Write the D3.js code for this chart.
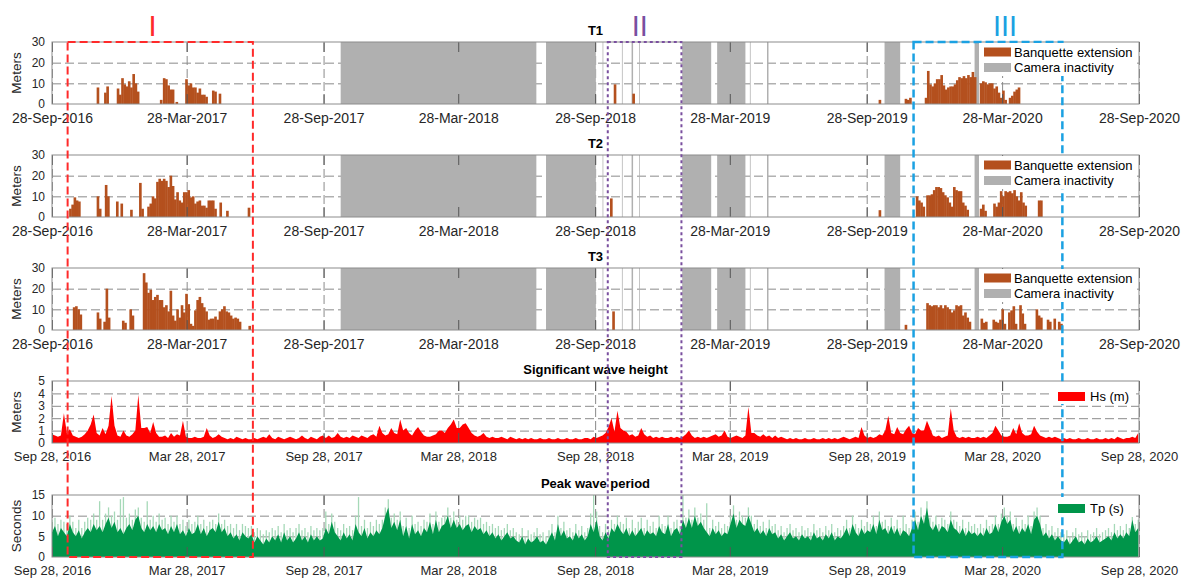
<!DOCTYPE html>
<html>
<head>
<meta charset="utf-8">
<script src="https://cdn.jsdelivr.net/npm/d3@7"></script>
<style>
body { margin: 0; background: #fff; }
svg { font-family: Arial, "Liberation Sans", sans-serif; }
</style>
</head>
<body>
<svg id="chart" width="1185" height="578"></svg>
<script>
// ---- data ----
let xStart = "2016-09-28", xEnd = "2020-09-28";
let tickDates = ["2016-09-28", "2017-03-28", "2017-09-28", "2018-03-28", "2018-09-28",
                 "2019-03-28", "2019-09-28", "2020-03-28", "2020-09-28"];

// camera inactivity periods (same for T1, T2, T3)
let inactivity = [
  ["2017-10-21", "2018-07-11"], ["2018-07-24", "2018-09-29"],
  ["2018-10-08", "2018-10-09"], ["2018-11-03", "2018-11-04"],
  ["2018-11-16", "2018-11-18"], ["2018-11-26", "2018-11-27"],
  ["2019-01-23", "2019-03-03"], ["2019-03-11", "2019-04-18"],
  ["2019-04-24", "2019-04-25"], ["2019-05-17", "2019-05-19"],
  ["2019-10-22", "2019-11-12"], ["2020-02-20", "2020-02-26"]
];

// banquette extension (m): runs of values, one value every 3 days from the start date
let barStepDays = 3;
let t1Runs = [
  ["2016-11-27", [8]], ["2016-12-07", [5.5]], ["2016-12-10", [8.5]],
  ["2016-12-24", [7.5, 4.5, 12.5, 9.5, 8.5, 11, 8, 14.5, 10, 6]],
  ["2017-02-20", [2]],
  ["2017-02-24", [12.5, 12, 9, 7, 7]],
  ["2017-03-13", [1]],
  ["2017-03-26", [12, 9, 10, 8, 8, 5.5, 7.5, 4.5, 4.5, 3.5, 0, 0, 6.5, 6, 0, 5]],
  ["2018-10-23", [9.5]], ["2018-11-17", [5]],
  ["2019-10-14", [2]], ["2019-11-18", [2.5, 2, 3]],
  ["2019-12-15", [3, 16, 9.5, 8.5, 10, 12, 12, 14, 9, 7, 8, 8.5, 8.5, 9.5, 11.5, 13, 12.5, 13.5, 12.5, 14, 13, 15.5, 13]],
  ["2020-02-27", [10, 11, 10.5, 9.5, 10, 10, 7.5, 8.5, 5.5, 3, 6.5, 2, 0, 3, 4, 6, 7, 8]]
];
let t2Runs = [
  ["2016-10-21", [4, 6, 9.5, 8, 7.5]],
  ["2016-11-27", [10]], ["2016-11-30", [4]],
  ["2016-12-08", [15.5, 10]], ["2016-12-23", [7.5]], ["2016-12-29", [6.5]],
  ["2017-01-11", [3.5]], ["2017-01-23", [16.5, 4]],
  ["2017-02-03", [5, 6.5, 10, 9]],
  ["2017-02-15", [17, 18.5, 17.5, 18.5, 17.5, 14.5, 20, 15, 8.5, 12, 8, 7, 12, 12, 13, 9.5, 10, 6.5, 7.5, 8, 5.5, 5.5, 4.5, 8, 8, 8, 4]],
  ["2017-05-11", [7]], ["2017-05-20", [3]], ["2017-06-18", [4.5]],
  ["2018-10-18", [9]],
  ["2019-10-14", [3.3]],
  ["2019-12-03", [10, 8, 7, 5]],
  ["2019-12-17", [10.5, 10.5, 11, 13, 14.5, 14.5, 14, 12, 10.5, 9.5, 7, 5, 14.5, 13, 12.5, 12.5, 7, 5.5, 3.5]],
  ["2020-02-27", [4, 6, 3]],
  ["2020-03-16", [6.5, 5, 7, 12.5, 10, 12.5, 12, 12.5, 11.5, 13, 10, 8, 12, 7, 5.5]],
  ["2020-05-15", [8, 8]]
];
let t3Runs = [
  ["2016-10-26", [11, 11.5, 10, 7.5]],
  ["2016-11-27", [8.5, 5.5]],
  ["2016-12-06", [4, 20, 6]],
  ["2016-12-31", [4.5, 3.5]],
  ["2017-01-10", [10, 7]],
  ["2017-01-28", [27.5, 23, 18, 19.5, 14.5, 16, 17, 14.5, 14.5, 11, 12, 9, 19, 7, 4.5, 10, 6, 12, 8.5, 17.5, 12.5, 3, 2, 9.5, 14.5, 16, 13, 11, 9, 5, 5.5, 5.5, 6.5, 5, 9, 10, 11.5, 9, 8.5, 7, 5.5, 6, 5.5, 4]],
  ["2017-06-19", [2]],
  ["2018-10-21", [9]],
  ["2019-11-18", [2.5]],
  ["2019-12-17", [13, 12, 11.5, 12, 12, 11, 12, 10.5, 12, 11, 10, 8.5, 9.5, 12, 11.5, 12, 7, 8.5, 6, 4]],
  ["2020-02-28", [5.5, 3.5, 4]],
  ["2020-03-15", [5, 4, 3.5, 5, 10, 3, 0, 8.5, 9.5, 11.5, 3, 0, 12, 8, 3]],
  ["2020-05-12", [10, 7, 6]],
  ["2020-05-27", [5, 4, 0, 5.5, 0, 4, 3]]
];

// wave series: one value every 4 days from xStart
let waveStepDays = 4;
let hsValues = [
  0.7, 0.6, 0.5, 0.6, 2.4, 0.8, 1.1, 0.6, 0.5, 0.4,
  0.5, 0.7, 1.0, 1.5, 2.3, 0.8, 0.6, 1.2, 0.7, 1.4,
  3.8, 1.4, 0.6, 0.5, 1.0, 0.6, 0.5, 0.7, 1.0, 3.9,
  1.2, 1.2, 1.3, 0.8, 1.7, 0.8, 0.5, 0.5, 0.6, 0.4,
  0.8, 0.5, 0.7, 0.6, 1.8, 0.5, 0.4, 0.4, 0.5, 0.4,
  0.4, 0.5, 1.2, 0.6, 0.4, 0.5, 0.7, 0.5, 0.4, 0.3,
  0.4, 0.3, 0.5, 0.4, 0.3, 0.4, 0.3, 0.3, 0.4, 0.3,
  0.4, 0.5, 0.4, 0.7, 0.4, 0.3, 0.5, 0.4, 0.3, 0.4,
  0.5, 0.4, 0.3, 0.4, 0.6, 0.4, 0.3, 0.5, 0.4, 0.3,
  0.5, 0.6, 0.4, 0.6, 0.4, 0.5, 0.8, 0.5, 0.4, 0.5,
  0.4, 0.6, 0.5, 0.4, 0.6, 0.5, 0.4, 0.6, 0.7, 0.5,
  1.4, 0.8, 0.6, 0.7, 1.2, 0.8, 0.7, 1.9, 1.0, 1.2,
  0.8, 0.6, 1.0, 1.3, 0.9, 0.6, 0.5, 0.5, 0.6, 0.7,
  1.0, 1.0, 0.8, 1.2, 1.5, 1.9, 1.2, 1.2, 1.5, 1.6,
  1.2, 0.8, 0.6, 0.5, 0.6, 0.8, 0.5, 0.4, 0.5, 0.4,
  0.4, 0.5, 0.4, 0.3, 0.5, 0.4, 0.3, 0.4, 0.3, 0.4,
  0.3, 0.4, 0.3, 0.3, 0.4, 0.3, 0.3, 0.4, 0.3, 0.3,
  0.4, 0.3, 0.3, 0.4, 0.3, 0.3, 0.4, 0.3, 0.3, 0.4,
  0.4, 0.3, 0.5, 0.4, 0.5, 0.6, 0.8, 1.3, 2.0, 0.9,
  2.6, 1.2, 1.0, 0.9, 0.6, 0.7, 0.5, 0.6, 1.2, 0.7,
  0.5, 0.6, 0.4, 0.5, 0.4, 0.5, 0.4, 0.4, 0.5, 0.4,
  0.5, 0.4, 0.5, 0.7, 1.0, 0.6, 0.4, 0.5, 0.4, 0.5,
  0.4, 0.5, 0.6, 0.7, 0.5, 0.6, 1.0, 0.5, 0.4, 0.5,
  0.6, 0.5, 0.4, 0.6, 2.9, 0.8, 0.8, 0.6, 0.5, 0.7,
  0.5, 0.6, 0.4, 0.6, 0.4, 0.5, 0.4, 0.3, 0.4, 0.3,
  0.4, 0.3, 0.3, 0.4, 0.3, 0.3, 0.4, 0.3, 0.3, 0.4,
  0.3, 0.4, 0.3, 0.4, 0.3, 0.4, 0.5, 0.4, 0.3, 0.4,
  0.5, 0.4, 1.3, 0.6, 0.4, 0.5, 0.4, 0.5, 0.7, 0.6,
  1.0, 2.2, 0.8, 0.7, 1.3, 0.8, 0.7, 1.1, 1.4, 0.8,
  0.7, 1.2, 1.0, 1.0, 1.8, 1.2, 0.6, 0.5, 0.6, 0.4,
  0.5, 0.6, 2.8, 1.0, 0.5, 0.4, 0.5, 0.4, 0.5, 0.4,
  0.4, 0.5, 0.4, 0.5, 0.4, 0.6, 0.8, 1.4, 1.0, 0.6,
  0.5, 0.5, 0.6, 1.2, 0.7, 1.6, 0.8, 0.6, 0.6, 0.7,
  1.4, 0.9, 0.6, 0.5, 0.4, 0.5, 0.4, 0.5, 0.4, 0.3,
  0.4, 0.3, 0.4, 0.3, 0.3, 0.4, 0.3, 0.3, 0.4, 0.3,
  0.3, 0.4, 0.3, 0.3, 0.4, 0.3, 0.4, 0.3, 0.5, 0.4,
  0.3, 0.4, 0.4, 0.5, 0.4, 0.8
];
// peak period: typical level (dark) and short spikes (light)
let tpValues = [
  6, 7.5, 5, 7, 6, 5, 8, 6, 5, 6.5,
  4.5, 6, 7, 6, 8, 6.5, 7.5, 6, 8, 9.5,
  7, 8.5, 6, 7, 5.5, 7, 8, 6.5, 9, 10,
  7, 6, 8, 6.5, 7.5, 6, 8, 6.5, 7, 5.5,
  7.5, 6, 8, 5.5, 6.5, 5, 7, 5.5, 6, 8,
  5.5, 7, 5, 6.5, 7, 6, 8.5, 6, 7, 5,
  6, 4.5, 5.5, 4, 6, 5, 4.5, 5.5, 3.5, 5,
  4, 3, 4.5, 3.5, 5, 4, 5.5, 3.5, 6, 4,
  5, 3.5, 4.5, 6, 4, 5, 3.5, 5.5, 4, 5,
  4, 4.5, 7, 5.5, 8.5, 6, 5, 4, 6, 4.5,
  5.5, 4, 8, 6, 5, 7, 4.5, 6, 5, 6.5,
  5.5, 7, 10, 12, 7, 8.5, 6.5, 9, 5, 7.5,
  4.5, 8, 5.5, 6.5, 5, 7, 6, 8.5, 5.5, 9,
  6, 7.5, 8, 10, 7, 9, 7, 8, 6.5, 7.5,
  8, 6, 7.5, 6.5, 7, 5.5, 6.5, 5, 6, 4.5,
  5.5, 4, 5, 6, 4.5, 5, 4, 3.5, 5, 3,
  4.5, 3.5, 4, 5, 3.5, 4, 3, 4.5, 6, 4,
  8, 5, 6.5, 4.5, 5, 4, 6, 4.5, 5.5, 4,
  5, 8, 6, 9, 5, 4, 6, 4.5, 7, 6,
  8, 6.5, 5.5, 7, 5, 6.5, 5, 6, 7, 5,
  6.5, 5.5, 6, 5, 7.5, 6, 5.5, 8, 5, 6.5,
  7, 5.5, 9, 7, 9.5, 7, 10, 7.5, 8.5, 7,
  6, 5, 7, 5.5, 6.5, 5, 6, 5.5, 8, 10.5,
  7, 9, 8, 7.5, 10, 8, 6, 7, 5.5, 6.5,
  5, 7, 5.5, 6, 4.5, 5.5, 4, 5, 6, 4.5,
  5, 4, 5.5, 4.5, 5, 4, 6, 4.5, 5, 4,
  5.5, 4.5, 6, 4, 5, 4.5, 5.5, 7, 5, 8,
  6, 5, 7, 5.5, 6.5, 6, 8, 5.5, 9, 6.5,
  7, 5.5, 7.5, 5.5, 7, 5, 6.5, 6, 5, 7,
  9, 6.5, 10, 8, 12, 7.5, 6.5, 8, 6, 7.5,
  7, 6, 9, 7, 6.5, 5.5, 7, 5, 6.5, 5.5,
  6, 5, 6, 5, 7, 5.5, 6, 8, 6, 8.5,
  10, 8, 9, 6, 7.5, 5.5, 7, 6, 8, 5.5,
  9, 10, 8, 5, 6, 4.5, 5.5, 4, 5, 4,
  3.5, 4.5, 3, 4, 5, 3.5, 4, 3, 4.5, 3.5,
  4, 5, 3.5, 4, 4.5, 5, 4, 6, 4.5, 5.5,
  4.5, 6, 5, 9, 6, 7
];
let tpPeaks = [
  9, 9.5, 8, 9, 8.5, 8, 10, 8.5, 7, 9,
  7, 8.5, 9.5, 9, 10.5, 9, 13.5, 9, 10.5, 12,
  10, 11, 9, 14, 14.5, 9.5, 10.5, 9, 11.5, 12,
  9.5, 8.5, 13.5, 9, 10, 8.5, 10.5, 9, 9.5, 8,
  10, 8.5, 10, 8, 9, 7.5, 9, 8, 8.5, 10,
  8, 9, 7.5, 8.5, 9, 8, 10.5, 8, 9, 7.5,
  8, 7, 8, 6.5, 8, 7.5, 7, 7.5, 6, 7,
  6.5, 5.5, 6.5, 6, 7, 6.5, 7.5, 6, 8, 6.5,
  7, 6, 7, 8, 6.5, 7, 6, 7.5, 6.5, 7,
  6.5, 7, 11, 8, 10.5, 8.5, 7, 6.5, 8, 7,
  7.5, 6.5, 10, 14.5, 7.5, 9, 7, 8.5, 7.5, 9,
  8, 9, 12, 14, 9.5, 10.5, 9, 11, 7.5, 9.5,
  7, 10, 8, 8.5, 7.5, 9, 8.5, 10.5, 8, 11,
  8.5, 9.5, 10, 12, 9.5, 11, 9, 10, 9, 10,
  10, 8.5, 9.5, 9, 9.5, 8, 8.5, 7.5, 8, 7,
  7.5, 6.5, 7, 8, 6.5, 7, 6, 5.5, 7, 5,
  6.5, 5.5, 6, 7, 5.5, 6, 5, 6.5, 8, 6,
  10, 7, 8.5, 6.5, 7, 6, 8, 6.5, 7.5, 6,
  7, 10.5, 15, 11, 7.5, 6, 8, 6.5, 9, 8,
  10, 8.5, 8, 9.5, 7, 9, 7, 8.5, 9.5, 7,
  9, 7.5, 8.5, 7, 10, 8, 7.5, 10, 7, 8.5,
  9, 7.5, 15, 9.5, 11.5, 9, 12, 9.5, 10.5, 9,
  13, 7, 9, 7.5, 8.5, 7, 8, 7.5, 10, 12.5,
  9, 11, 10, 9.5, 12, 10, 8, 9, 7.5, 8.5,
  7, 9, 7.5, 8, 6.5, 7.5, 6, 7, 8, 6.5,
  7, 6, 7.5, 6.5, 7, 6, 8, 6.5, 7, 6,
  7.5, 6.5, 8, 6, 7, 6.5, 7.5, 9, 7, 10,
  8, 7, 9, 7.5, 8.5, 8, 10, 7.5, 11, 8.5,
  9, 7.5, 9.5, 7.5, 9, 7, 10, 8, 7, 9,
  11, 8.5, 12, 10, 13.5, 9.5, 8.5, 10, 8, 9.5,
  9, 8, 11, 9, 8.5, 7.5, 9, 7, 8.5, 7.5,
  8, 7, 8, 7, 9, 7.5, 8, 10, 8, 10.5,
  12, 10, 11, 8, 9.5, 7.5, 9, 8, 10, 7.5,
  11, 12, 10, 7, 8, 6.5, 7.5, 6, 7, 6,
  5.5, 6.5, 5, 6, 7, 5.5, 6, 5, 6.5, 5.5,
  6, 7, 5.5, 6, 6.5, 7, 6, 8, 6.5, 7.5,
  6.5, 8, 7, 10.5, 8, 9
];

// highlighted periods: label, start, end, label anchor date
let periods = [
  ["I", "2016-10-19", "2017-06-25", "2017-02-10"],
  ["II", "2018-10-15", "2019-01-22", "2018-11-27"],
  ["III", "2019-11-30", "2020-06-17", "2020-04-01"]
];

// ---- drawing ----
let svg = d3.select("#chart");
let parse = d3.timeParse("%Y-%m-%d");
let left = 52, right = 1139, ph = 62;
let gridColor = "#8a8a8a", textColor = "#262626";
let brown = "#b4501e", inactiveGray = "#b0b0b0";

let x = d3.scaleTime()
    .domain([parse(xStart), parse(xEnd)])
    .range([left, right]);

let ticks = tickDates.map(parse);
let fmtLong = d3.timeFormat("%d-%b-%Y"),
    fmtUS = d3.timeFormat("%b %d, %Y");

function expandRuns(runs) {
  return runs.flatMap(function(r) {
    let s = parse(r[0]);
    return r[1].map(function(v, i) {
      return {date: d3.timeDay.offset(s, i * barStepDays), value: v};
    });
  });
}

function stepSeries(values) {
  let s = parse(xStart);
  return values.map(function(v, i) {
    return {date: d3.timeDay.offset(s, i * waveStepDays), value: v};
  });
}

function drawPanel(cfg, id) {
  let top = cfg.top, bottom = top + ph;
  let y = d3.scaleLinear().domain([0, cfg.yMax]).range([bottom, top]);
  let g = svg.append("g");

  g.append("clipPath").attr("id", "clip" + id)
    .append("rect").attr("x", left).attr("y", top)
    .attr("width", right - left).attr("height", ph);

  // grid
  g.append("g").attr("transform", "translate(0," + bottom + ")")
    .call(d3.axisBottom(x).tickValues(ticks).tickSize(-ph).tickFormat(""))
    .call(function(s) {
      s.select(".domain").remove();
      s.selectAll("line").attr("stroke", gridColor).attr("stroke-dasharray", "9,4");
    });
  g.append("g").attr("transform", "translate(" + left + ",0)")
    .call(d3.axisLeft(y).tickValues(cfg.grid).tickSize(-(right - left)).tickFormat(""))
    .call(function(s) {
      s.select(".domain").remove();
      s.selectAll("line").attr("stroke", gridColor).attr("stroke-dasharray", "9,4");
    });

  let data = g.append("g").attr("clip-path", "url(#clip" + id + ")");
  cfg.draw(data, y);

  // ticks inside the box
  g.append("g").attr("transform", "translate(0," + bottom + ")")
    .call(d3.axisBottom(x).tickValues(ticks).tickSize(-10).tickPadding(cfg.labelPad).tickFormat(cfg.fmt))
    .call(function(s) {
      s.select(".domain").remove();
      s.selectAll("line").attr("stroke", "#555");
      s.selectAll("text").attr("fill", textColor)
        .style("font-size", cfg.tickFont + "px")
        .style("font-family", "Arial, 'Liberation Sans', sans-serif");
    });
  g.append("g").attr("transform", "translate(0," + top + ")")
    .call(d3.axisTop(x).tickValues(ticks).tickSize(-10).tickFormat(""))
    .call(function(s) {
      s.select(".domain").remove();
      s.selectAll("line").attr("stroke", "#555");
    });
  g.append("g").attr("transform", "translate(" + left + ",0)")
    .call(d3.axisLeft(y).tickValues(cfg.yTicks).tickSize(0).tickPadding(7).tickFormat(d3.format("d")))
    .call(function(s) {
      s.select(".domain").remove();
      s.selectAll("text").attr("fill", textColor)
        .style("font-size", "12px")
        .style("font-family", "Arial, 'Liberation Sans', sans-serif");
    });

  g.append("rect")
    .attr("x", left).attr("y", top)
    .attr("width", right - left).attr("height", ph)
    .attr("fill", "none").attr("stroke", "#8c8c8c");

  g.append("text")
    .attr("transform", "translate(21," + (top + ph / 2) + ") rotate(-90)")
    .attr("text-anchor", "middle")
    .attr("fill", textColor)
    .style("font-size", "13.5px")
    .text(cfg.yLabel);

  g.append("text")
    .attr("x", (left + right) / 2).attr("y", top - 7.5)
    .attr("text-anchor", "middle")
    .style("font-size", "13px").style("font-weight", "bold")
    .text(cfg.title);

  return g;
}

function drawBanquette(runs) {
  return function(g, y) {
    g.selectAll(".gap")
      .data(inactivity)
      .enter().append("rect")
        .attr("x", function(d) { return x(parse(d[0])); })
        .attr("width", function(d) { return x(parse(d[1])) - x(parse(d[0])); })
        .attr("y", y(30)).attr("height", y(0) - y(30))
        .attr("fill", inactiveGray);
    g.selectAll(".bar")
      .data(expandRuns(runs))
      .enter().append("rect")
        .attr("x", function(d) { return x(d.date); })
        .attr("width", function(d) { return x(d3.timeDay.offset(d.date, barStepDays)) - x(d.date) + 0.4; })
        .attr("y", function(d) { return y(d.value); })
        .attr("height", function(d) { return y(0) - y(d.value); })
        .attr("fill", brown);
  };
}

function areaOf(y) {
  return d3.area()
    .x(function(d) { return x(d.date); })
    .y0(y(0))
    .y1(function(d) { return y(d.value); });
}

let tPanels = [
  {top: 42, title: "T1", runs: t1Runs},
  {top: 155, title: "T2", runs: t2Runs},
  {top: 268, title: "T3", runs: t3Runs}
];

tPanels.forEach(function(p, i) {
  drawPanel({
    top: p.top, yMax: 30, yTicks: [0, 10, 20, 30], grid: [10, 20],
    fmt: fmtLong, tickFont: 14, labelPad: 9, yLabel: "Meters", title: p.title,
    draw: drawBanquette(p.runs)
  }, i);
});

drawPanel({
  top: 381, yMax: 5, yTicks: [0, 1, 2, 3, 4, 5], grid: [1, 2, 3, 4],
  fmt: fmtUS, tickFont: 13, labelPad: 9, yLabel: "Meters", title: "Significant wave height",
  draw: function(g, y) {
    g.append("path").datum(stepSeries(hsValues))
      .attr("d", areaOf(y)).attr("fill", "#ff0000");
  }
}, 3);

drawPanel({
  top: 495, yMax: 15, yTicks: [0, 5, 10, 15], grid: [5, 10],
  fmt: fmtUS, tickFont: 13, labelPad: 9, yLabel: "Seconds", title: "Peak wave period",
  draw: function(g, y) {
    g.selectAll(".spike")
      .data(stepSeries(tpPeaks))
      .enter().append("line")
        .attr("x1", function(d) { return x(d.date); })
        .attr("x2", function(d) { return x(d.date); })
        .attr("y1", y(0))
        .attr("y2", function(d) { return y(d.value); })
        .attr("stroke", "#a6d9b8")
        .attr("stroke-width", 1.3);
    g.append("path").datum(stepSeries(tpValues))
      .attr("d", areaOf(y)).attr("fill", "#00954a");
  }
}, 4);

// highlighted periods across all panels
let periodStyle = {
  "I": {color: "#ff2a2a", dash: "8,4", width: 2},
  "II": {color: "#7a4f9f", dash: "3,3", width: 2},
  "III": {color: "#1ba1e2", dash: "8,4", width: 2.5}
};
periods.forEach(function(p) {
  let st = periodStyle[p[0]];
  svg.append("rect")
    .attr("x", x(parse(p[1]))).attr("y", 42)
    .attr("width", x(parse(p[2])) - x(parse(p[1])))
    .attr("height", 557 - 42)
    .attr("fill", "none")
    .attr("stroke", st.color)
    .attr("stroke-width", st.width)
    .attr("stroke-dasharray", st.dash);
  svg.append("text")
    .attr("x", x(parse(p[3]))).attr("y", 36)
    .attr("text-anchor", "middle")
    .attr("fill", st.color)
    .style("font-size", "29px")
    .text(p[0]);
});

// legends
tPanels.forEach(function(p) {
  let lg = svg.append("g");
  lg.append("rect").attr("x", 979).attr("y", p.top + 1)
    .attr("width", 158).attr("height", 33).attr("fill", "#fff");
  [["Banquette extension", brown], ["Camera inactivity", inactiveGray]].forEach(function(it, j) {
    let yy = p.top + 5.5 + j * 15.5;
    lg.append("rect").attr("x", 984).attr("y", yy).attr("width", 27).attr("height", 9).attr("fill", it[1]);
    lg.append("text").attr("x", 1014).attr("y", yy + 9)
      .attr("fill", "#000").style("font-size", "13px").text(it[0]);
  });
});

[[381, 11, "Hs (m)", "#ff0000", 3], [495, 9, "Tp (s)", "#00954a", 2]].forEach(function(it) {
  let lg = svg.append("g");
  lg.append("rect").attr("x", 1052).attr("y", it[0] + it[4])
    .attr("width", 84).attr("height", 20).attr("fill", "#fff");
  lg.append("rect").attr("x", 1058).attr("y", it[0] + it[1]).attr("width", 27).attr("height", 9).attr("fill", it[3]);
  lg.append("text").attr("x", 1090).attr("y", it[0] + it[1] + 9)
    .attr("fill", "#000").style("font-size", "13px").text(it[2]);
});
</script>
</body>
</html>
